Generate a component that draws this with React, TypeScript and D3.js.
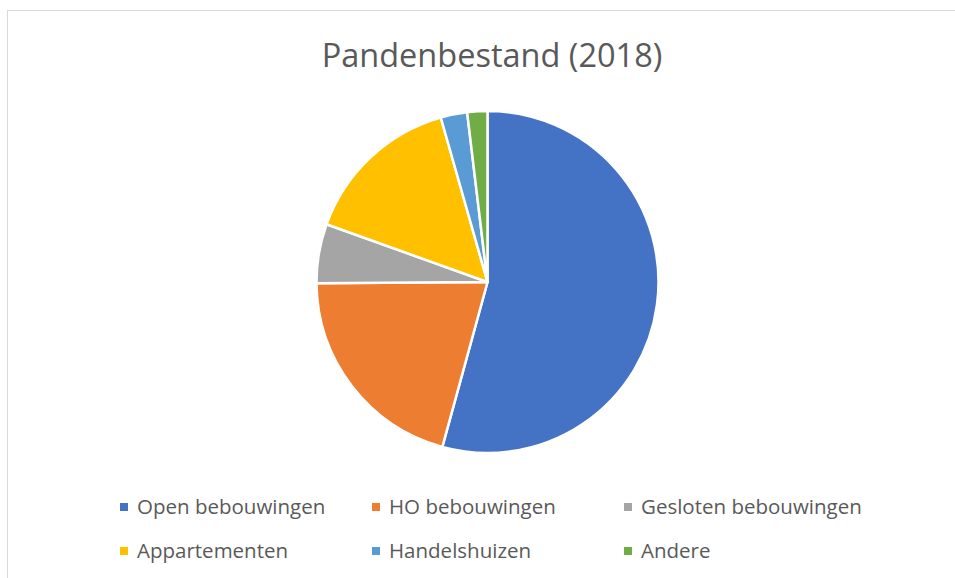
import { useEffect, useRef } from 'react'
import * as d3 from 'd3'

const categories = ['Open bebouwingen', 'HO bebouwingen', 'Gesloten bebouwingen', 'Appartementen', 'Handelshuizen', 'Andere']
const shares = [54.2, 20.6, 5.6, 15.1, 2.5, 1.9]
const colors = ['#4472C4', '#ED7D31', '#A5A5A5', '#FFC000', '#5B9BD5', '#70AD47']
const title = 'Pandenbestand (2018)'

const W = 955
const H = 578
const FONT = '"Open Sans", "Noto Sans", sans-serif'

export default function App() {
  const svgRef = useRef<SVGSVGElement>(null)

  useEffect(() => {
    if (!svgRef.current) return
    const svg = d3.select(svgRef.current)
    svg.selectAll('*').remove()

    svg.append('rect').attr('width', W).attr('height', H).attr('fill', '#fff')

    // chart frame (cut off at right/bottom like the reference)
    svg.append('rect')
      .attr('x', 7.5).attr('y', 10.5)
      .attr('width', W + 10).attr('height', H + 10)
      .attr('fill', 'none').attr('stroke', '#d9d9d9').attr('stroke-width', 1)

    svg.append('text')
      .attr('x', 492).attr('y', 67)
      .attr('text-anchor', 'middle')
      .attr('font-family', FONT).attr('font-size', 32.5)
      .attr('fill', '#595959')
      .text(title)

    const data = categories.map((c, i) => ({ name: c, value: shares[i], color: colors[i] }))
    const pie = d3.pie<typeof data[0]>().sort(null).value(d => d.value)
    const arc = d3.arc<d3.PieArcDatum<typeof data[0]>>().innerRadius(0).outerRadius(171)

    const g = svg.append('g').attr('transform', 'translate(487.5,282)')
    g.selectAll('path')
      .data(pie(data))
      .join('path')
      .attr('d', arc)
      .attr('fill', d => d.data.color)
      .attr('stroke', '#fff')
      .attr('stroke-width', 2.5)
      .attr('stroke-linejoin', 'round')

    const legendX = d3.scalePoint<number>().domain([0, 1, 2]).range([124, 628])
    const legendY = d3.scalePoint<number>().domain([0, 1]).range([507, 551])

    const items = svg.append('g')
      .selectAll('g')
      .data(data)
      .join('g')
      .attr('transform', (_, i) => `translate(${legendX(i % 3)},${legendY(Math.floor(i / 3))})`)

    items.append('rect')
      .attr('x', -4).attr('y', -4).attr('width', 8).attr('height', 8)
      .attr('fill', d => d.color)

    items.append('text')
      .attr('x', 13).attr('y', 7)
      .attr('font-family', FONT).attr('font-size', 20.5)
      .attr('fill', '#595959')
      .text(d => d.name)
  }, [])

  return (
    <svg ref={svgRef} width={W} height={H}
      style={{ position: 'absolute', left: 0, top: 0, display: 'block' }} />
  )
}
